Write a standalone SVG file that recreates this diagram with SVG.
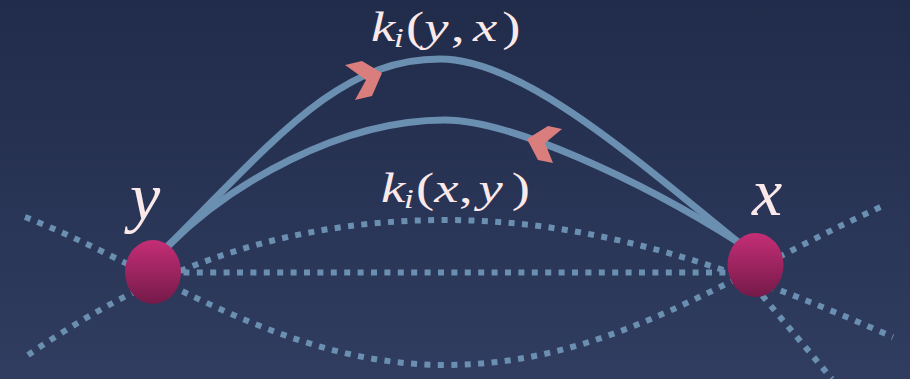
<svg xmlns="http://www.w3.org/2000/svg" width="910" height="379" viewBox="0 0 910 379">
<defs>
<linearGradient id="bg" x1="0" y1="0" x2="0" y2="1">
<stop offset="0" stop-color="#212b4a"/>
<stop offset="1" stop-color="#303d60"/>
</linearGradient>
<linearGradient id="nodeFill" x1="0" y1="0" x2="0" y2="1">
<stop offset="0" stop-color="#c52e76"/>
<stop offset="1" stop-color="#741a49"/>
</linearGradient>
<style>
.dot{fill:none;stroke:#6a8fb0;stroke-width:6;stroke-dasharray:6 7.4}
.arc{fill:none;stroke:#6a8fb0;stroke-width:7;stroke-linecap:round}
.head{fill:#d97d7d}
.node{fill:url(#nodeFill)}
.lbl{font-family:"Liberation Serif","Times New Roman",serif;fill:#fbe9ea}
.it{font-style:italic}
</style>
</defs>
<rect width="910" height="379" fill="url(#bg)"/>
<g id="connectors">
<path class="dot" d="M170,272.5 L740,272.5"/>
<path class="dot" d="M28,355 C130,285 260,220 445,220 C600,220 740,270 893,337"/>
<path class="dot" d="M25,217 C150,265 280,365 445,365 C610,365 730,275 885,205"/>
<path class="dot" d="M745,275 L832,379"/>
<path class="arc" d="M168,246 C278,136 340,59 440,59 C520,59 625,150 738,242"/>
<path class="arc" d="M168,246 C230,184 340,120 445,120 C510,120 640,180 738,242"/>
<polygon class="head" points="345,65 362,61 382,73 372,96 355,100 366,80"/>
<polygon class="head" points="527,139 548,126 562,129 545,143 553,163 538,160"/>
</g>
<g id="node-y">
<ellipse class="node" cx="153" cy="272" rx="28" ry="32"/>
<text class="lbl it" x="130" y="220" font-size="68">y</text>
</g>
<g id="node-x">
<ellipse class="node" cx="755.5" cy="265" rx="28" ry="32"/>
<text class="lbl it" x="752" y="215" font-size="68">x</text>
</g>
<g id="label-kyx">
<text class="lbl" transform="translate(371,41) scale(1.3,1)" font-size="42"><tspan class="it" x="0" y="0">k</tspan><tspan class="it" x="17.5" y="6" font-size="28">i</tspan><tspan x="27" y="0">(</tspan><tspan class="it" x="41">y</tspan><tspan x="61.5">,</tspan><tspan class="it" x="78.5">x</tspan><tspan x="101">)</tspan></text>
</g>
<g id="label-kxy">
<text class="lbl" transform="translate(381,202) scale(1.3,1)" font-size="42"><tspan class="it" x="0" y="0">k</tspan><tspan class="it" x="17.5" y="6" font-size="28">i</tspan><tspan x="27" y="0">(</tspan><tspan class="it" x="41">x</tspan><tspan x="60">,</tspan><tspan class="it" x="75">y</tspan><tspan x="100.5">)</tspan></text>
</g>
</svg>
